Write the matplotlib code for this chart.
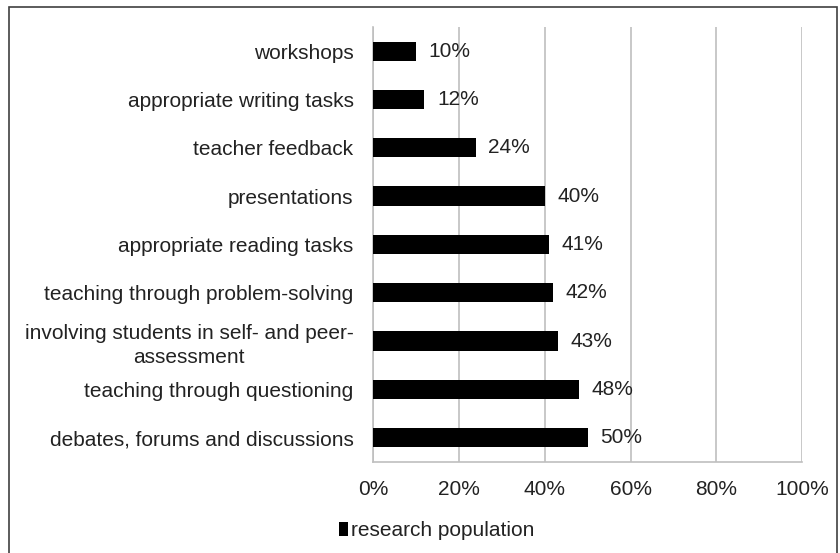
import matplotlib.pyplot as plt
from matplotlib.patches import Rectangle

plt.rcParams['font.family'] = ['Liberation Sans', 'DejaVu Sans']

# Datos del grafico (de abajo hacia arriba)
categorias = [
    "debates, forums and discussions",
    "teaching through questioning",
    "involving students in self- and peer-\nassessment",
    "teaching through problem-solving",
    "appropriate reading tasks",
    "presentations",
    "teacher feedback",
    "appropriate writing tasks",
    "workshops",
]
valores = [50, 48, 43, 42, 41, 40, 24, 12, 10]
ticks_x = [0, 20, 40, 60, 80, 100]
serie = "research population"

fig = plt.figure(figsize=(8.4, 5.53), dpi=100)
ax = fig.add_axes([0.444, 0.165, 0.511, 0.786])

# Marco exterior del grafico
fig.patches.append(Rectangle((9 / 840, -0.01), (837 - 9) / 840, 1 - 7 / 553 + 0.01,
                             transform=fig.transFigure, fill=False,
                             edgecolor="#404040", linewidth=1.2))

y = range(len(categorias))
barras = ax.barh(y, valores, height=0.4, color="black", label=serie, zorder=3)

for yi, v in zip(y, valores):
    ax.annotate(f"{v}%", xy=(v, yi), xytext=(9, 0), textcoords="offset points",
                va="center", ha="left", fontsize=15, color="#222222", zorder=4)

ax.set_xlim(0, 100)
ax.set_ylim(-0.5, len(categorias) - 0.5)
ax.set_xticks(ticks_x)
ax.set_xticklabels([f"{t}%" for t in ticks_x], fontsize=15, color="#222222")
ax.set_yticks(list(y))
ax.set_yticklabels(categorias, fontsize=15, color="#222222", multialignment="center",
                   linespacing=1.35)
ax.tick_params(axis="both", length=0)
ax.tick_params(axis="x", pad=13)
ax.tick_params(axis="y", pad=14)

ax.grid(axis="x", color="#BFBFBF", linewidth=1.2, zorder=0)
for lado in ["top", "right"]:
    ax.spines[lado].set_visible(False)
for lado in ["left", "bottom"]:
    ax.spines[lado].set_color("#BFBFBF")
    ax.spines[lado].set_linewidth(1.2)

fig.legend(handles=[barras], labels=[serie], loc="center", bbox_to_anchor=(0.52, 0.04),
           frameon=False, fontsize=15, handlelength=0.45, handleheight=0.6,
           handletextpad=0.15, labelcolor="#222222")

fig.savefig("out.png", dpi=100)
